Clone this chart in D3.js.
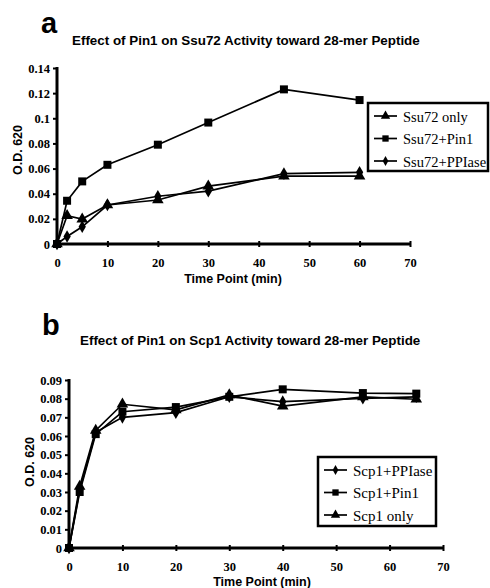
<!DOCTYPE html>
<html>
<head>
<meta charset="utf-8">
<script src="https://cdn.jsdelivr.net/npm/d3@7"></script>
<style>
  body { margin: 0; background: #fff; }
  svg { display: block; }
</style>
</head>
<body>
<script>
// Panel a data
const timeA = [0, 2, 5, 10, 20, 30, 45, 60];
const ssu72Only = [0, 0.0225, 0.0198, 0.031, 0.035, 0.046, 0.054, 0.054];
const ssu72Pin1 = [0, 0.0344, 0.0498, 0.063, 0.079, 0.0966, 0.123, 0.1145];
const ssu72PPIase = [0, 0.006, 0.0137, 0.031, 0.038, 0.042, 0.056, 0.057];
const yTicksA = [0, 0.02, 0.04, 0.06, 0.08, 0.1, 0.12, 0.14];

// Panel b data
const timeB = [0, 2, 5, 10, 20, 30, 40, 55, 65];
const scp1PPIase = [0, 0.031, 0.062, 0.070, 0.0725, 0.081, 0.0784, 0.0802, 0.081];
const scp1Pin1 = [0, 0.030, 0.061, 0.073, 0.0755, 0.081, 0.085, 0.083, 0.0827];
const scp1Only = [0, 0.033, 0.063, 0.077, 0.074, 0.082, 0.076, 0.081, 0.0797];
const yTicksB = [0, 0.01, 0.02, 0.03, 0.04, 0.05, 0.06, 0.07, 0.08, 0.09];

const xTicks = [0, 10, 20, 30, 40, 50, 60, 70];

const w = 490;
const h = 588;

const serif = "'Liberation Serif', 'Times New Roman', serif";
const sans = "'Liberation Sans', Arial, sans-serif";

const svg = d3.select('body').append('svg')
  .attr('width', w)
  .attr('height', h);

// marker shapes, plot size and legend size
const symbols = {
  triangle: d3.symbol().type(d3.symbolTriangle).size(58)(),
  square: d3.symbol().type(d3.symbolSquare).size(64)(),
  diamond: d3.symbol().type(d3.symbolDiamond).size(46)()
};
const legendSymbols = {
  triangle: d3.symbol().type(d3.symbolTriangle).size(38)(),
  square: d3.symbol().type(d3.symbolSquare).size(40)(),
  diamond: d3.symbol().type(d3.symbolDiamond).size(28)()
};

function panel(opts) {
  const x = d3.scaleLinear().domain([0, 70]).range([opts.x0, opts.x1]);
  const y = d3.scaleLinear().domain([0, opts.yMax]).range([opts.y0, opts.y1]);
  const g = svg.append('g');

  // letter and title
  g.append('text')
    .attr('x', opts.letterX).attr('y', opts.letterY)
    .attr('font-family', sans)
    .attr('font-weight', 'bold').attr('font-size', 29)
    .text(opts.letter);
  g.append('text')
    .attr('x', opts.titleX).attr('y', opts.titleY)
    .attr('font-family', sans)
    .attr('font-weight', 'bold').attr('font-size', 13.4)
    .text(opts.title);

  // axes
  const yAxis = d3.axisLeft(y).tickValues(opts.yTicks)
    .tickFormat(d => String(+d.toFixed(2)))
    .tickSize(4).tickSizeOuter(0);
  const ya = g.append('g').attr('transform', `translate(${opts.x0},0)`).call(yAxis);
  ya.attr('font-family', serif);
  ya.select('.domain').attr('stroke-width', 3)
    .attr('d', `M0,${opts.y0 + 1}V${opts.y1 - 1}`);
  ya.selectAll('.tick line').attr('stroke-width', 2);
  ya.selectAll('.tick text')
    .attr('font-family', serif)
    .attr('font-weight', 'bold').attr('font-size', 12.5).attr('x', -7);

  const xAxis = d3.axisBottom(x).tickValues(xTicks).tickSize(3).tickSizeOuter(0);
  const xa = g.append('g').attr('transform', `translate(0,${opts.y0})`).call(xAxis);
  xa.attr('font-family', serif);
  xa.select('.domain').attr('stroke-width', 3)
    .attr('d', `M${opts.x0 - 1},0H${opts.x1 + 1}`);
  xa.selectAll('.tick line').attr('stroke-width', 2).attr('y1', -3).attr('y2', 3);
  xa.selectAll('.tick text')
    .attr('font-family', serif)
    .attr('font-weight', 'bold').attr('font-size', 12.5).attr('y', 14);

  // axis titles
  g.append('text')
    .attr('transform', `translate(${opts.yLabelX},${opts.yLabelY}) rotate(-90)`)
    .attr('text-anchor', 'middle')
    .attr('font-family', sans)
    .attr('font-weight', 'bold').attr('font-size', 12.5)
    .text('O.D. 620');
  g.append('text')
    .attr('x', opts.xLabelX).attr('y', opts.xLabelY)
    .attr('text-anchor', 'middle')
    .attr('font-family', sans)
    .attr('font-weight', 'bold').attr('font-size', 12.5)
    .text('Time Point (min)');

  // series
  const line = d3.line().x(d => x(d[0])).y(d => y(d[1]));
  opts.series.forEach(s => {
    const pts = opts.time.map((t, i) => [t, s.values[i]]);
    g.append('path')
      .datum(pts)
      .attr('d', line)
      .attr('fill', 'none').attr('stroke', '#000').attr('stroke-width', 1.7);
    g.selectAll(null).data(pts).enter().append('path')
      .attr('d', symbols[s.marker])
      .attr('transform', d => `translate(${x(d[0])},${y(d[1])})`)
      .attr('fill', '#000');
  });

  // legend
  const lg = g.append('g').attr('transform', `translate(${opts.legX},${opts.legY})`);
  lg.append('rect')
    .attr('width', opts.legW).attr('height', opts.legH)
    .attr('fill', '#fff').attr('stroke', '#000').attr('stroke-width', 2.5);
  opts.series.forEach((s, i) => {
    const cy = 13 + i * 22.5;
    lg.append('line')
      .attr('x1', 6).attr('x2', 29).attr('y1', cy).attr('y2', cy)
      .attr('stroke', '#000').attr('stroke-width', 1.7);
    lg.append('path').attr('d', legendSymbols[s.marker])
      .attr('transform', `translate(17.5,${cy})`).attr('fill', '#000');
    lg.append('text')
      .attr('x', 35).attr('y', cy + 5.5)
      .attr('font-family', serif)
      .attr('font-size', opts.legFont)
      .text(s.name);
  });
}

panel({
  letter: 'a', letterX: 41, letterY: 33,
  title: 'Effect of Pin1 on Ssu72 Activity toward 28-mer Peptide', titleX: 72, titleY: 45,
  x0: 57, x1: 410, y0: 244, y1: 68, yMax: 0.14, yTicks: yTicksA,
  yLabelX: 22, yLabelY: 150, xLabelX: 233, xLabelY: 283,
  time: timeA,
  series: [
    { name: 'Ssu72 only', values: ssu72Only, marker: 'triangle' },
    { name: 'Ssu72+Pin1', values: ssu72Pin1, marker: 'square' },
    { name: 'Ssu72+PPIase', values: ssu72PPIase, marker: 'diamond' }
  ],
  legX: 368, legY: 103, legW: 120, legH: 68, legFont: 14.5
});

panel({
  letter: 'b', letterX: 42, letterY: 335,
  title: 'Effect of Pin1 on Scp1 Activity toward 28-mer Peptide', titleX: 80, titleY: 345,
  x0: 69, x1: 443, y0: 548, y1: 380, yMax: 0.09, yTicks: yTicksB,
  yLabelX: 34, yLabelY: 462, xLabelX: 262, xLabelY: 586,
  time: timeB,
  series: [
    { name: 'Scp1+PPIase', values: scp1PPIase, marker: 'diamond' },
    { name: 'Scp1+Pin1', values: scp1Pin1, marker: 'square' },
    { name: 'Scp1 only', values: scp1Only, marker: 'triangle' }
  ],
  legX: 318, legY: 457, legW: 118, legH: 69, legFont: 15
});
</script>
</body>
</html>
